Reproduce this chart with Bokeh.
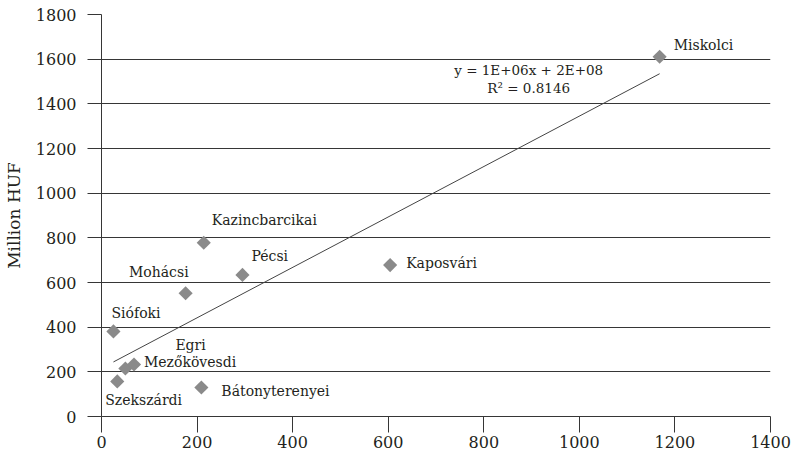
import numpy as np
from bokeh.plotting import figure
from bokeh.models import ColumnDataSource, Range1d, FixedTicker, Label
from bokeh.core.properties import value
from bokeh.embed import file_html
from bokeh.resources import INLINE

# ---- data ----
cities = ["Miskolci", "Kaposvári", "Kazincbarcikai", "Pécsi", "Mohácsi",
          "Siófoki", "Egri", "Mezőkövesdi", "Szekszárdi", "Bátonyterenyei"]
x_vals = [1168, 604, 214, 295, 176, 25, 50, 68, 33, 209]
y_vals = [1611, 678, 778, 634, 552, 381, 215, 233, 157, 130]
x_ticks = [0, 200, 400, 600, 800, 1000, 1200, 1400]
y_ticks = [0, 200, 400, 600, 800, 1000, 1200, 1400, 1600, 1800]
eq_text = "y = 1E+06x + 2E+08"
r2_text = "R\u00b2 = 0.8146"
y_label = "Million HUF"

# ---- label styling (screen offsets, px) ----
lab_dx = [14, 16, 8, 9, 3, -2, 50, 10, -12, 20]
lab_dy = [-12, -2, -23, -19, -21, -18, -23, -2, 19, 4]
lab_align = ["left", "left", "left", "left", "right", "left", "left", "left", "left", "left"]

FONT = "DejaVu Serif"
TXT = "#231f20"
LINE = "#363636"

p = figure(width=793, height=461, output_backend="svg", toolbar_location=None,
           x_range=Range1d(0, 1400), y_range=Range1d(0, 1800),
           min_border_left=100, min_border_right=23, min_border_top=14, min_border_bottom=45)
p.outline_line_color = None
p.background_fill_color = "white"
p.border_fill_color = "white"

p.xgrid.visible = False
p.ygrid.grid_line_color = LINE
p.ygrid.grid_line_width = 1
p.ygrid.ticker = FixedTicker(ticks=y_ticks)

p.xaxis.ticker = FixedTicker(ticks=x_ticks)
p.yaxis.ticker = FixedTicker(ticks=y_ticks)
for ax in (p.xaxis[0], p.yaxis[0]):
    ax.axis_line_color = LINE
    ax.major_tick_line_color = LINE
    ax.minor_tick_line_color = None
    ax.major_tick_in = 0
    ax.major_label_text_font = FONT
    ax.major_label_text_font_size = "16px"
    ax.major_label_text_color = TXT
p.xaxis.major_tick_out = 16
p.xaxis.major_label_standoff = 3
p.yaxis.major_tick_out = 14
p.yaxis.major_label_standoff = 11
p.yaxis.axis_label = y_label
p.yaxis.axis_label_text_font = FONT
p.yaxis.axis_label_text_font_size = "17px"
p.yaxis.axis_label_text_font_style = "normal"
p.yaxis.axis_label_text_color = TXT
p.yaxis.axis_label_standoff = 9

# trend line from least squares fit of the data
xa = np.array(x_vals, dtype=float)
ya = np.array(y_vals, dtype=float)
m, b = np.polyfit(xa, ya, 1)
xf = [xa.min(), xa.max()]
yf = [m * v + b for v in xf]
p.line(xf, yf, line_color="#444444", line_width=1)

src = ColumnDataSource(dict(x=x_vals, y=y_vals, name=cities,
                            dx=lab_dx, dy=lab_dy, align=lab_align))
p.scatter("x", "y", source=src, marker="square", angle=np.pi / 4, size=10,
          fill_color="#8a8a8a", line_color=None)
p.text("x", "y", text="name", source=src, x_offset="dx", y_offset="dy",
       text_align="align", text_baseline="middle",
       text_font=value(FONT), text_font_size="14px", text_color=TXT)

p.add_layout(Label(x=894, y=1550, text=eq_text, text_align="center", text_baseline="middle",
                   text_font=FONT, text_font_size="13.5px", text_color=TXT))
p.add_layout(Label(x=894, y=1472, text=r2_text, text_align="center", text_baseline="middle",
                   text_font=FONT, text_font_size="13.5px", text_color=TXT))

open("out.html", "w").write(file_html(p, INLINE))
